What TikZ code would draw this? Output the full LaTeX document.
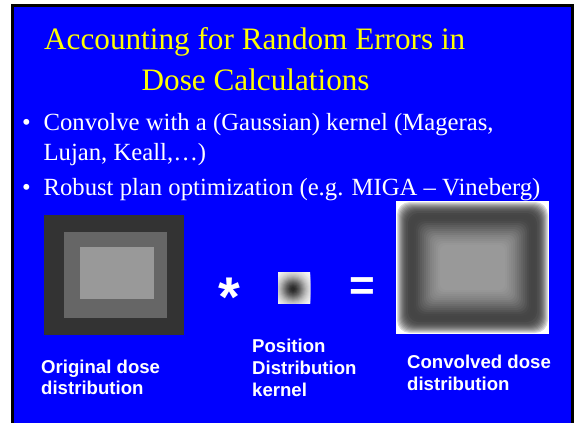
\documentclass[tikz,border=0pt]{standalone}
\usepackage{fontspec}
\setmainfont{Liberation Serif}
\setsansfont{Liberation Sans}
\usetikzlibrary{positioning}
\definecolor{slideblue}{HTML}{0000FF}
\definecolor{slideyellow}{HTML}{FFFF00}
\definecolor{doseA}{HTML}{333333}
\definecolor{doseB}{HTML}{666666}
\definecolor{doseC}{HTML}{999999}
\tikzset{
  ttl/.style={anchor=base west, inner sep=0pt, text=slideyellow, font=\fontsize{31.2}{31.2}\selectfont},
  bul/.style={anchor=base west, inner sep=0pt, text=white, font=\fontsize{24.7}{29.5}\selectfont},
  lbl/.style={anchor=base west, inner sep=0pt, text=white, font=\fontsize{18.6}{22}\selectfont\sffamily\bfseries},
  op/.style={anchor=north, inner sep=0pt, text=white}
}

\begin{document}
\begin{tikzpicture}[x=1pt, y=-1pt]
\useasboundingbox (0,0) rectangle (576,423);
% slide frame
\fill[white] (0,0) rectangle (576,423);
\fill[black] (11,4) rectangle (574,423);
\fill[slideblue] (14,7) rectangle (571,423);

% title and bullets
\node[ttl] (t1) at (44,49) {Accounting for Random Errors in};
\node[ttl] (t2) at (141.5,90) {Dose Calculations};
\node[bul] (d1) at (22,130.5) {•};
\node[bul] (b1) at (43.4,130.5) {Convolve with a (Gaussian) kernel (Mageras,};
\node[bul] (b1b) at (43.4,160) {Lujan, Keall,…)};
\node[bul] (d2) at (22,195) {•};
\node[bul] (b2) at (43.4,195) {Robust plan optimization (e.g. MIGA – Vineberg)};

% original dose
\fill[doseA] (44,215) rectangle (184,335);
\fill[doseB] (64,232) rectangle (167,318);
\fill[doseC] (80,247) rectangle (154,299);

% kernel
\fill[white] (278,272) rectangle (310,303);
\begin{scope}
  \clip (278,272) rectangle (310,303);
  \foreach \r in {24,23,...,1}{
    \pgfmathtruncatemacro\k{85*exp(-(\r/13)*(\r/13))}
    \fill[black!\k] (293,289) circle (\r pt);
  }
\end{scope}

% convolved dose, nested bands
\fill[white] (396,201) rectangle (549,334);
\foreach \t/\k in {1/14,2/24,3/33,4/41,5/48,6/54,7/59,8/63,9/66,10/69,12/72,14/73,16/73,18/72,20/70,22/67,24/64,26/61,28/58,30/55,32/52,34/49,36/47,38/45,40/43,42/41,44/40}{
  \pgfmathsetmacro\rc{max(13-\t/5,6)}
  \fill[black!\k, rounded corners=\rc pt] ({396+\t},{201+\t}) rectangle ({549-\t},{334-\t});
}

% operators
\node[op, font=\fontsize{56}{56}\selectfont\sffamily\bfseries] (star) at (229,278) {*};
\node[op, font=\fontsize{44}{44}\selectfont\sffamily\bfseries] (eq) at (362.5,277) {=};

% captions
\node[lbl] (o1) at (41,373) {Original dose};
\node[lbl] (o2) at (41,394) {distribution};
\node[lbl] (k1) at (252,352) {Position};
\node[lbl] (k2) at (252,374) {Distribution};
\node[lbl] (k3) at (252,396) {kernel};
\node[lbl] (c1) at (407,368) {Convolved dose};
\node[lbl] (c2) at (407,390) {distribution};
\end{tikzpicture}
\end{document}
